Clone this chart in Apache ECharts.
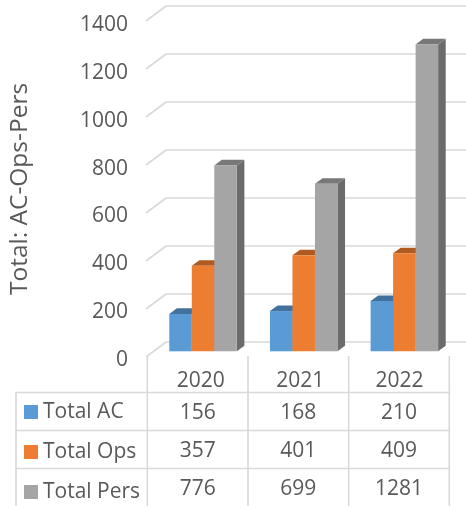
<!DOCTYPE html>
<html><head><meta charset="utf-8">
<style>html,body{margin:0;padding:0;background:#fff}#c{width:466px;height:506px}</style>
<script src="https://cdn.jsdelivr.net/npm/echarts@6/dist/echarts.min.js"></script>
</head><body><div id="c"></div>
<script>
const categories = ['2020','2021','2022'];
const seriesNames = ['Total AC','Total Ops','Total Pers'];
const totalAC = [156,168,210];
const totalOps = [357,401,409];
const totalPers = [776,699,1281];
const yTicks = [0,200,400,600,800,1000,1200,1400];
const yTitle = 'Total: AC-Ops-Pers';
const seriesValues = [totalAC,totalOps,totalPers];
const faceColors = ['#5B9BD5','#ED7D31','#A5A5A5'];
const topColors = ['#41719C','#AE5A21','#787878'];
const sideColors = ['#3D6A94','#A35420','#6B6B6B'];

const FONT = '"Open Sans"', TXT = '#595959', LINE = '#D9D9D9', FS = 21;
const DX = 7.6, DY = 5.6;
const chart = echarts.init(document.getElementById('c'), null, {renderer:'canvas'});

function barRender(si){
  return function(params, api){
    const band = api.size([1,0])[0];
    const w = band*0.2235;
    const i = api.value(0), v = api.value(1);
    const base = api.coord([i,0]), top = api.coord([i,v]);
    const x0 = base[0] + (si-1.5)*w, x1 = x0 + w, y0 = base[1], y1 = top[1];
    return {type:'group',children:[
      {type:'polygon',shape:{points:[[x1,y0],[x1+DX,y0-DY],[x1+DX,y1-DY],[x1,y1]]},style:{fill:sideColors[si]}},
      {type:'polygon',shape:{points:[[x0,y1],[x1,y1],[x1+DX,y1-DY],[x0+DX,y1-DY]]},style:{fill:topColors[si]}},
      {type:'rect',shape:{x:x0,y:y1,width:w,height:y0-y1},style:{fill:faceColors[si]}}
    ]};
  };
}
function stubRender(params, api){
  const p = api.coord([0,api.value(0)]);
  const x = params.coordSys.x;
  return {type:'line',shape:{x1:x,y1:p[1],x2:x-20,y2:p[1]+15},style:{stroke:LINE,lineWidth:1.6}};
}
const colX = [147.3,248,348.7,449.3];
const rowY = [392.5,430.5,468.5];
const rowC = [413.5,451.5,489.5];
const graphic = [];
const ln = (x1,y1,x2,y2)=>graphic.push({type:'line',silent:true,z:1,shape:{x1,y1,x2,y2},style:{stroke:LINE,lineWidth:1.6}});
colX.forEach(x=>ln(x,356,x,506));
ln(16,392,16,506);
rowY.forEach(y=>ln(16,y,449.3,y));
seriesValues.forEach((vals,r)=>vals.forEach((v,c)=>graphic.push({type:'text',silent:true,z:5,
  x:(colX[c]+colX[c+1])/2,y:rowC[r],
  style:{text:String(v),fill:TXT,font:FS+'px '+FONT,textAlign:'center',textVerticalAlign:'middle'}})));

const hiddenCat = i=>({type:'category',data:categories,gridIndex:i,axisLine:{show:false},axisTick:{show:false},axisLabel:{show:false},splitLine:{show:false}});
const hiddenVal = i=>({type:'value',min:0,max:1400,interval:200,gridIndex:i,axisLine:{show:false},axisTick:{show:false},axisLabel:{show:false},splitLine:{show:false}});

chart.setOption({
  animation:false,
  backgroundColor:'#fff',
  textStyle:{fontFamily:FONT},
  graphic,
  grid:[
    {left:147.3,top:25,width:302,height:335},
    {left:152.7,top:15.9,width:302,height:335.4},
    {left:166,top:6,width:301,height:336}
  ],
  legend:{
    orient:'vertical',left:24,top:401.5,height:104,itemWidth:14,itemHeight:14,itemGap:19,icon:'rect',
    selectedMode:false,padding:0,
    data:seriesNames,
    textStyle:{color:TXT,fontFamily:FONT,fontSize:FS,lineHeight:14}
  },
  xAxis:[
    {type:'category',data:categories,gridIndex:0,axisLine:{show:false},axisTick:{show:false},splitLine:{show:false},
     axisLabel:{color:TXT,fontFamily:FONT,fontSize:FS,margin:11}},
    hiddenCat(1),hiddenCat(2)
  ],
  yAxis:[
    {type:'value',min:0,max:1400,interval:200,gridIndex:0,axisLine:{show:false},axisTick:{show:false},splitLine:{show:false},
     axisLabel:{color:TXT,fontFamily:FONT,fontSize:FS,margin:23,formatter:v=>String(v)},
     name:yTitle,nameLocation:'middle',nameGap:118,nameTextStyle:{color:TXT,fontFamily:FONT,fontSize:24.5,padding:[0,0,0,7]}},
    hiddenVal(1),
    Object.assign(hiddenVal(2),{splitLine:{show:true,lineStyle:{color:LINE,width:1.6}}})
  ],
  series:[
    {type:'custom',name:'wall',xAxisIndex:2,yAxisIndex:2,z:1,silent:true,renderItem:stubRender,
     data:yTicks.map(v=>[v]),encode:{y:0}},
    ...seriesNames.map((n,si)=>({
      type:'custom',name:n,xAxisIndex:1,yAxisIndex:1,z:3+si,
      itemStyle:{color:faceColors[si]},
      renderItem:barRender(si),
      encode:{x:0,y:1},
      data:seriesValues[si].map((v,i)=>[i,v])
    }))
  ]
});
</script></body></html>
